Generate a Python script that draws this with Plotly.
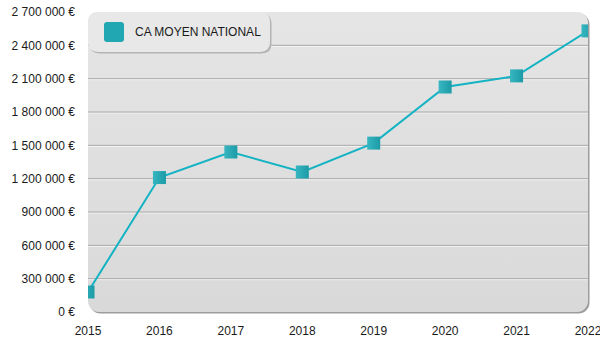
import base64
import plotly.graph_objects as go

# Chiffre d'affaires moyen national par année
years = [2015, 2016, 2017, 2018, 2019, 2020, 2021, 2022]
ca_moyen = [180000, 1210000, 1440000, 1260000, 1520000, 2025000, 2125000, 2530000]
series_name = "CA MOYEN NATIONAL"

y_ticks = [0, 300000, 600000, 900000, 1200000, 1500000, 1800000, 2100000, 2400000, 2700000]
y_labels = [f"{v:,}".replace(",", " ") + " €" for v in y_ticks]

# Figure geometry (pixels)
W, H = 600, 350
ML, MR, MT, MB = 88, 12, 12, 38
PW, PH = W - ML - MR, H - MT - MB
Y_MAX = y_ticks[-1]

FONT = "Liberation Sans, Arial, sans-serif"
LINE_COLOR = "#13b3c3"


def px_to_paper(px, py):
    return (px - ML) / PW, (MT + PH - py) / PH


def rounded_rect_path(x0, y0, x1, y1, r):
    """Rounded rectangle given in pixels, returned as an SVG path in paper coordinates."""
    pts = []

    def P(x, y):
        fx, fy = px_to_paper(x, y)
        return f"{fx:.5f},{fy:.5f}"

    pts.append(f"M {P(x0 + r, y0)}")
    pts.append(f"L {P(x1 - r, y0)}")
    pts.append(f"Q {P(x1, y0)} {P(x1, y0 + r)}")
    pts.append(f"L {P(x1, y1 - r)}")
    pts.append(f"Q {P(x1, y1)} {P(x1 - r, y1)}")
    pts.append(f"L {P(x0 + r, y1)}")
    pts.append(f"Q {P(x0, y1)} {P(x0, y1 - r)}")
    pts.append(f"L {P(x0, y0 + r)}")
    pts.append(f"Q {P(x0, y0)} {P(x0 + r, y0)} Z")
    return " ".join(pts)


# Panel background: rounded box, soft vertical gradient, grey edge on right/bottom
panel_svg = f"""<svg xmlns="http://www.w3.org/2000/svg" width="{PW + 2}" height="{PH + 2}" viewBox="0 0 {PW + 2} {PH + 2}" preserveAspectRatio="none">
<defs><linearGradient id="g" x1="0" y1="0" x2="0" y2="1">
<stop offset="0" stop-color="#e5e5e5"/><stop offset="1" stop-color="#d9d9d9"/></linearGradient></defs>
<rect x="1.5" y="1.5" width="{PW}" height="{PH}" rx="11" ry="11" fill="#9c9c9c"/>
<rect x="0" y="0" width="{PW}" height="{PH}" rx="11" ry="11" fill="url(#g)"/>
</svg>"""
panel_src = "data:image/svg+xml;base64," + base64.b64encode(panel_svg.encode()).decode()

fig = go.Figure()
fig.add_trace(go.Scatter(
    x=years, y=ca_moyen, name=series_name, mode="lines+markers",
    line=dict(color=LINE_COLOR, width=2),
    marker=dict(symbol="square", size=13, color="#36b6c0",
                gradient=dict(type="horizontal", color="#1c9ba6"),
                line=dict(width=0)),
    showlegend=False,
))

shapes = []
px_unit = Y_MAX / PH
for v in y_ticks[1:-1]:
    shapes.append(dict(type="line", xref="paper", yref="y", x0=0, x1=1, y0=v - px_unit, y1=v - px_unit,
                       line=dict(color="#f6f6f6", width=1), layer="below"))
    shapes.append(dict(type="line", xref="paper", yref="y", x0=0, x1=1, y0=v, y1=v,
                       line=dict(color="#a9a9a9", width=1), layer="below"))

# Legend box
shapes.append(dict(type="path", xref="paper", yref="paper",
                   path=rounded_rect_path(89.5, 13.5, 271.5, 53.5, 10),
                   fillcolor="#b4b4b4", line=dict(width=0), layer="above"))
shapes.append(dict(type="path", xref="paper", yref="paper",
                   path=rounded_rect_path(88, 12, 270, 52, 10),
                   fillcolor="#e8e8e8", line=dict(width=0), layer="above"))
shapes.append(dict(type="path", xref="paper", yref="paper",
                   path=rounded_rect_path(104, 22, 124, 42, 3),
                   fillcolor="#20a7b1", line=dict(width=0), layer="above"))

lx, ly = px_to_paper(133, 32)
annotations = [dict(text=series_name, xref="paper", yref="paper", x=lx, y=ly,
                    xanchor="left", yanchor="middle", showarrow=False,
                    font=dict(family=FONT, size=12, color="#1a1a1a"))]

fig.update_layout(
    width=W, height=H,
    margin=dict(l=ML, r=MR, t=MT, b=MB, pad=0, autoexpand=False),
    paper_bgcolor="white", plot_bgcolor="rgba(0,0,0,0)",
    font=dict(family=FONT, size=12, color="#1a1a1a"),
    shapes=shapes, annotations=annotations,
    images=[dict(source=panel_src, xref="paper", yref="paper", x=0, y=1,
                 sizex=(PW + 2) / PW, sizey=(PH + 2) / PH,
                 xanchor="left", yanchor="top", sizing="stretch", layer="below")],
    xaxis=dict(range=[years[0], years[-1]], tickvals=years, ticktext=[str(y) for y in years],
               showgrid=False, zeroline=False, showline=False, ticks="", ticklabelstandoff=10,
               automargin=False, ticklabeloverflow="allow",
               tickfont=dict(family=FONT, size=12, color="#1a1a1a")),
    yaxis=dict(range=[0, Y_MAX], tickvals=y_ticks, ticktext=y_labels,
               showgrid=False, zeroline=False, showline=False, ticks="", ticklabelstandoff=12,
               automargin=False, ticklabeloverflow="allow",
               tickfont=dict(family=FONT, size=12, color="#1a1a1a")),
)

fig.write_html("out.html")
